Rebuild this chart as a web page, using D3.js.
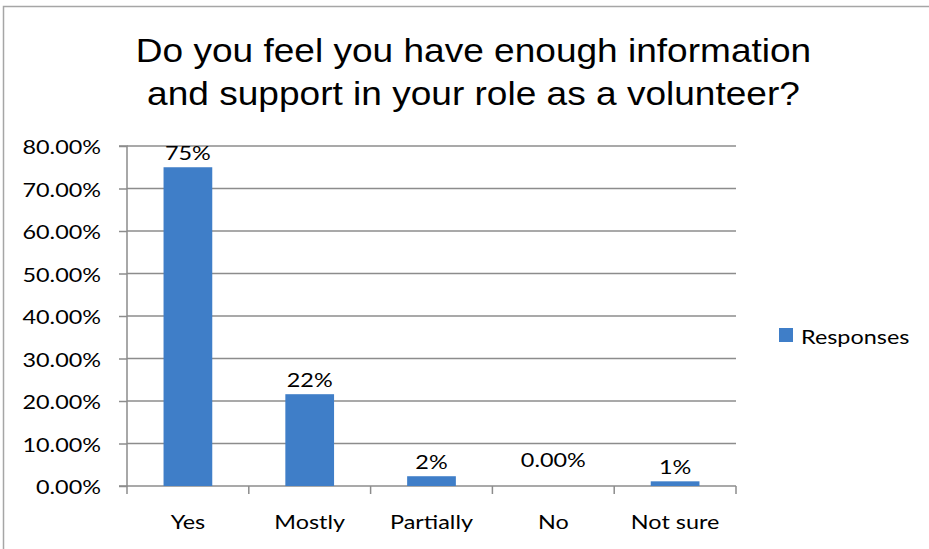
<!DOCTYPE html>
<html>
<head>
<meta charset="utf-8">
<script src="https://cdn.jsdelivr.net/npm/d3@7"></script>
<style>
  html, body { margin: 0; padding: 0; background: #fff; }
  svg { display: block; }
</style>
</head>
<body>
<svg id="chart" width="929" height="549"></svg>
<script>
// Survey responses, share of volunteers per answer
const categories = ["Yes", "Mostly", "Partially", "No", "Not sure"];
const responses = [0.75, 0.216, 0.023, 0, 0.011];
const yTicks = [0, 0.1, 0.2, 0.3, 0.4, 0.5, 0.6, 0.7, 0.8];
const titleLines = ["Do you feel you have enough information", "and support in your role as a volunteer?"];
const seriesName = "Responses";

const svg = d3.select("#chart");
const W = 929, H = 549;
const labelFont = "Lato, 'Open Sans', sans-serif";
const titleFont = "'Liberation Sans', Arial, sans-serif";
const labelSize = 20, labelStretch = 1.17;
const barColor = "#3f7ec8";
const gridColor = "#8c8c8c";

// text drawn with a slight horizontal widening
function addText(parent, str, x, y, opts) {
  const o = Object.assign({ anchor: "middle", size: labelSize, family: labelFont, sx: labelStretch }, opts || {});
  return parent.append("text")
    .attr("transform", `translate(${x},${y}) scale(${o.sx},1)`)
    .attr("text-anchor", o.anchor)
    .attr("font-family", o.family)
    .attr("font-size", o.size)
    .attr("fill", "#000")
    .text(str);
}

svg.append("rect").attr("width", W).attr("height", H).attr("fill", "#fff");
// outer chart frame (runs off the right and bottom edges)
svg.append("rect")
  .attr("x", 3.5).attr("y", 6.5).attr("width", W + 10).attr("height", H + 10)
  .attr("fill", "none").attr("stroke", "#a6a6a6").attr("stroke-width", 1.5);

const plot = { left: 127, right: 736, top: 146, bottom: 486 };

const x = d3.scaleBand().domain(categories).range([plot.left, plot.right]).paddingInner(0.6).paddingOuter(0.3);
const xOuter = d3.scaleBand().domain(categories).range([plot.left, plot.right]);
const y = d3.scaleLinear().domain([0, 0.8]).range([plot.bottom, plot.top]);

// title
const tg = svg.append("g");
titleLines.forEach((line, i) => {
  addText(tg, line, 473.5, 62 + i * 43, { family: titleFont, size: 34, sx: 1.09 });
});

// gridlines
svg.append("g")
  .selectAll("line").data(yTicks.filter(t => t > 0)).join("line")
  .attr("x1", plot.left).attr("x2", plot.right)
  .attr("y1", d => y(d)).attr("y2", d => y(d))
  .attr("stroke", gridColor).attr("stroke-width", 1.5);

// y axis
const yAxis = d3.axisLeft(y).tickValues(yTicks).tickFormat("").tickSize(8);
const gy = svg.append("g").attr("transform", `translate(${plot.left},0)`).call(yAxis);
gy.select(".domain").attr("stroke", gridColor).attr("stroke-width", 1.5).attr("d", `M-8,${plot.top}H0V${plot.bottom}H-8`);
gy.selectAll(".tick line").attr("stroke", gridColor).attr("stroke-width", 1.5);
const fmtTick = d3.format(".2%");
gy.selectAll(".tick").each(function (d) {
  addText(d3.select(this), fmtTick(d), -26, 7.5, { anchor: "end" });
});

// x axis with boundary ticks between categories
const gx = svg.append("g").attr("transform", `translate(0,${plot.bottom})`);
gx.append("line").attr("x1", plot.left).attr("x2", plot.right)
  .attr("stroke", gridColor).attr("stroke-width", 1.5);
const bounds = categories.map(c => xOuter(c)).concat([xOuter(categories[categories.length - 1]) + xOuter.bandwidth()]);
gx.selectAll("line.tk").data(bounds).join("line").attr("class", "tk")
  .attr("x1", d => d).attr("x2", d => d).attr("y1", 0).attr("y2", 8)
  .attr("stroke", gridColor).attr("stroke-width", 1.5);
categories.forEach(c => addText(gx, c, xOuter(c) + xOuter.bandwidth() / 2, 43));

// bars
const data = categories.map((c, i) => ({ cat: c, value: responses[i] }));
svg.append("g").selectAll("rect").data(data).join("rect")
  .attr("x", d => x(d.cat)).attr("width", x.bandwidth())
  .attr("y", d => y(d.value)).attr("height", d => y(0) - y(d.value))
  .attr("fill", barColor);

// value labels
const pct0 = d3.format(".0%"), pct2 = d3.format(".2%");
const lbl = svg.append("g");
data.forEach(d => {
  addText(lbl, d.value === 0 ? pct2(d.value) : pct0(d.value),
    x(d.cat) + x.bandwidth() / 2,
    y(d.value) - (d.value === 0 ? 19 : 7));
});

// legend
const lg = svg.append("g").attr("transform", "translate(779,328)");
lg.append("rect").attr("width", 14).attr("height", 14).attr("fill", barColor);
addText(lg, seriesName, 22, 16, { anchor: "start" });
</script>
</body>
</html>
